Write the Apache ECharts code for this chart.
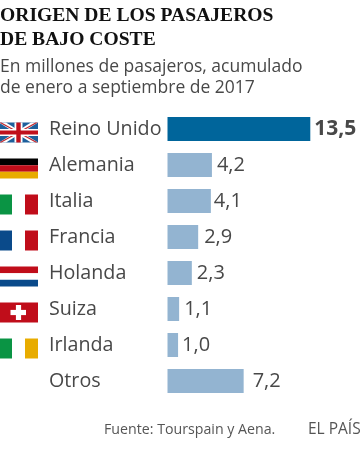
<!DOCTYPE html>
<html><head><meta charset="utf-8">
<style>html,body{margin:0;padding:0;background:#fff}#c{width:360px;height:468px}</style>
<script src="https://cdn.jsdelivr.net/npm/echarts@6/dist/echarts.min.js"></script>
</head><body><div id="c"></div>
<script>
const categories = ['Reino Unido','Alemania','Italia','Francia','Holanda','Suiza','Irlanda','Otros'];
const values = [13.5,4.2,4.1,2.9,2.3,1.1,1.0,7.2];
const valueLabels = ['13,5','4,2','4,1','2,9','2,3','1,1','1,0','7,2'];
const flags = ['uk','de','it','fr','nl','ch','ie',null];
const labelGaps = [4,5,3,6,5,5,4,9];
const titleLines = ['ORIGEN DE LOS PASAJEROS','DE BAJO COSTE'];
const subtitleLines = ['En millones de pasajeros, acumulado','de enero a septiembre de 2017'];
const source = 'Fuente: Tourspain y Aena.';
const brand = 'EL PAÍS';

const SANS = '"Open Sans", sans-serif';
const TXT = '#484848';
const rect = (x,y,w,h,fill)=>({type:'rect',shape:{x,y,width:w,height:h},style:{fill}});
const poly = (points,fill)=>({type:'polygon',shape:{points},style:{fill}});
function flagShapes(kind,cy){
  const L=-1,R=38,W=R-L,H=20,T=cy-6.5,B=T+H,M=(L+R)/2,C=T+H/2;
  const v3=(a,b,c)=>[rect(L,T,W/3,H,a),rect(L+W/3,T,W/3,H,b),rect(L+2*W/3,T,W/3,H,c)];
  const h3=(a,b,c)=>[rect(L,T,W,H/3,a),rect(L,T+H/3,W,H/3,b),rect(L,T+2*H/3,W,H/3,c)];
  const diag=(w,f)=>[poly([[L,T],[L+w,T],[R,B],[R-w,B]],f),poly([[R,T],[R-w,T],[L,B],[L+w,B]],f)];
  switch(kind){
    case 'uk': return [rect(L,T,W,H,'#1d5f9b'),...diag(7,'#ffffff'),...diag(2.5,'#c0272d'),
      rect(L,C-3.5,W,7,'#ffffff'),rect(M-4,T,8,H,'#ffffff'),rect(L,C-2,W,4,'#c0101c'),rect(M-2.2,T,4.4,H,'#c0101c')];
    case 'de': return h3('#000000','#c00d1a','#e8ac00');
    case 'it': return v3('#0a9444','#ffffff','#c00d1a');
    case 'fr': return v3('#0a4a8a','#ffffff','#c00d1a');
    case 'nl': return h3('#c00d1a','#ffffff','#0a4a8a');
    case 'ie': return v3('#0a9444','#ffffff','#e8ac00');
    case 'ch': return [rect(L,T,W,H,'#c00d1a'),rect(M-8,C-2.6,15.5,5.2,'#ffffff'),rect(M-2.6,C-7.5,5.2,15,'#ffffff')];
  }
  return [];
}
const text=(x,y,t,style)=>({type:'text',x,y,silent:true,style:Object.assign({text:t,verticalAlign:'middle',fill:TXT},style)});
const chart = echarts.init(document.getElementById('c'),null,{renderer:'canvas'});
chart.setOption({
  animation:false,
  grid:{left:167.5,top:111,width:142.8,height:288,containLabel:false},
  xAxis:{type:'value',min:0,max:13.5,show:false},
  yAxis:{type:'category',inverse:true,data:categories,
    axisLine:{show:false},axisTick:{show:false},splitLine:{show:false},
    axisLabel:{align:'left',margin:118.5,fontFamily:SANS,fontSize:19.7,color:TXT,padding:[7,0,0,0]}},
  series:[
    {type:'bar',barWidth:24,silent:true,
      data:values.map((v,i)=>({value:v,
        itemStyle:{color:i===0?'#00659b':'#93b4d1'},
        label:{show:true,position:'right',distance:labelGaps[i],formatter:valueLabels[i],padding:[7,0,0,0],
          fontFamily:SANS,fontSize:i===0?21:20,fontWeight:i===0?'bold':'normal',color:TXT}}))},
    {type:'custom',silent:true,clip:false,
      data:flags.map((f,i)=>[0,i]),
      encode:{x:0,y:1},
      renderItem:(p,api)=>{
        const cy=api.coord([0,api.value(1)])[1];
        return {type:'group',children:flagShapes(flags[api.value(1)],cy)};
      }}
  ],
  graphic:[
    text(0,16,titleLines[0],{font:'bold 19.6px "Liberation Serif"',fill:'#111111'}),
    text(0,40,titleLines[1],{font:'bold 19.6px "Liberation Serif"',fill:'#111111'}),
    text(0,67,subtitleLines[0],{font:'17.5px '+SANS}),
    text(0,88,subtitleLines[1],{font:'17.5px '+SANS}),
    text(104,430,source,{font:'14.2px '+SANS,fill:'#555555'}),
    text(308,430,brand,{font:'15.5px '+SANS,fill:'#555555'})
  ]
});
</script></body></html>
